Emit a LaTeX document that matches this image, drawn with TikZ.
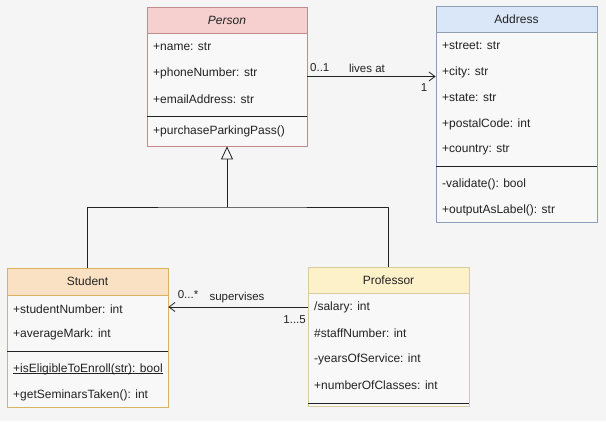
\documentclass[tikz,border=0pt]{standalone}
\usepackage{fontspec}
\setmainfont{Liberation Sans}
\usetikzlibrary{arrows.meta,calc}

\definecolor{paper}{HTML}{F5F5F5}
\definecolor{bodyfill}{HTML}{F8F8F8}
\definecolor{ink}{HTML}{222222}
\definecolor{personfill}{HTML}{F6CFCF}
\definecolor{personline}{HTML}{C28A8A}
\definecolor{addressfill}{HTML}{DAE7F8}
\definecolor{addressline}{HTML}{8C9DB5}
\definecolor{studentfill}{HTML}{FBE1C4}
\definecolor{studentline}{HTML}{D9B262}
\definecolor{proffill}{HTML}{FDF1CA}
\definecolor{profline}{HTML}{D8CC9A}

\begin{document}
\begin{tikzpicture}[
  x=1pt,y=-1pt,
  line join=round,
  classbox/.style={draw,fill=bodyfill,line width=0.7pt,inner sep=0pt},
  classhead/.style={draw,line width=0.7pt,inner sep=0pt,text=ink,
    minimum width=161pt,anchor=north,font=\fontsize{12}{14}\selectfont},
  member/.style={anchor=west,inner sep=0pt,text=ink,
    font=\fontsize{12}{14}\selectfont},
  divider/.style={line width=0.8pt,draw=ink},
  link/.style={line width=0.8pt,draw=ink},
  mult/.style={inner sep=0pt,text=ink,font=\fontsize{11.5}{13}\selectfont}
]

\fill[paper] (0,0) rectangle (606,421);
\useasboundingbox (0,0) rectangle (606,421);

% ------------------------------------------------------------------
% Person
% ------------------------------------------------------------------
\node[classbox,draw=personline,minimum width=160pt,minimum height=139pt]
  (person) at (227,76.5) {};
\node[classhead,fill=personfill,draw=personline,minimum width=160pt,
  minimum height=26pt] (personHead) at (person.north) {\itshape Person};
\foreach \n/\y/\t in {pName/47/{+name: str},
                      pPhone/73/{+phoneNumber: str},
                      pEmail/99/{+emailAddress: str},
                      pParking/131/{+purchaseParkingPass()}}
  \node[member] (\n) at (153,\y) {\t};
\draw[divider] (147,116) -- (307,116);

% ------------------------------------------------------------------
% Address
% ------------------------------------------------------------------
\node[classbox,draw=addressline,minimum width=161pt,minimum height=216pt]
  (address) at (516.5,114) {};
\node[classhead,fill=addressfill,draw=addressline,minimum height=26pt]
  (addressHead) at (address.north) {Address};
\foreach \n/\y/\t in {aStreet/46/{+street: str},
                      aCity/72/{+city: str},
                      aState/98/{+state: str},
                      aPostal/124/{+postalCode: int},
                      aCountry/150/{+country: str},
                      aValidate/184/{-validate(): bool},
                      aLabel/210/{+outputAsLabel(): str}}
  \node[member] (\n) at (442,\y) {\t};
\draw[divider] (436,166) -- (597,166);

% ------------------------------------------------------------------
% Student
% ------------------------------------------------------------------
\node[classbox,draw=studentline,minimum width=161pt,minimum height=139pt]
  (student) at (87.5,337.5) {};
\node[classhead,fill=studentfill,draw=studentline,minimum height=27pt]
  (studentHead) at (student.north) {Student};
\foreach \n/\y/\t in {sNumber/309/{+studentNumber: int},
                      sMark/334/{+averageMark: int},
                      sEnroll/369/{\underline{\smash{+isEligibleToEnroll(str): bool}}\vphantom{(}},
                      sSeminars/395/{+getSeminarsTaken(): int}}
  \node[member] (\n) at (13,\y) {\t};
\draw[divider] (7,351) -- (168,351);

% ------------------------------------------------------------------
% Professor
% ------------------------------------------------------------------
\node[classbox,draw=profline,minimum width=161pt,minimum height=139pt]
  (professor) at (388.5,336.5) {};
\node[classhead,fill=proffill,draw=profline,minimum height=26pt]
  (professorHead) at (professor.north) {Professor};
\foreach \n/\y/\t in {rSalary/307/{/salary: int},
                      rStaff/333/{\#staffNumber: int},
                      rYears/359/{-yearsOfService: int},
                      rClasses/385/{+numberOfClasses: int}}
  \node[member] (\n) at (314,\y) {\t};
\draw[divider] (308,403) -- (469,403);

% ------------------------------------------------------------------
% Associations
% ------------------------------------------------------------------
\draw[link,-{Straight Barb[length=6pt,width=9pt]}]
  (person.east) -- (person.east -| address.west);
\node[mult,anchor=west] (livesFrom) at (310,68) {0..1};
\node[mult] (livesLabel) at (367,68) {lives at};
\node[mult] (livesTo) at (424,88) {1};

\draw[link,-{Straight Barb[length=6pt,width=9pt]}]
  (rSalary.west -| professor.west) -- (rSalary.west -| student.east);
\node[mult] (supFrom) at (188,295) {0...*};
\node[mult] (supLabel) at (237,298) {supervises};
\node[mult,anchor=east] (supTo) at (306,320) {1...5};

% Generalisation
\coordinate (fork) at (227,207);
\draw[link] (student.north) |- (fork) -| (professor.north);
\draw[link,-{Triangle[open,length=13pt,width=12pt]}] (fork) -- (person.south);

\end{tikzpicture}
\end{document}
